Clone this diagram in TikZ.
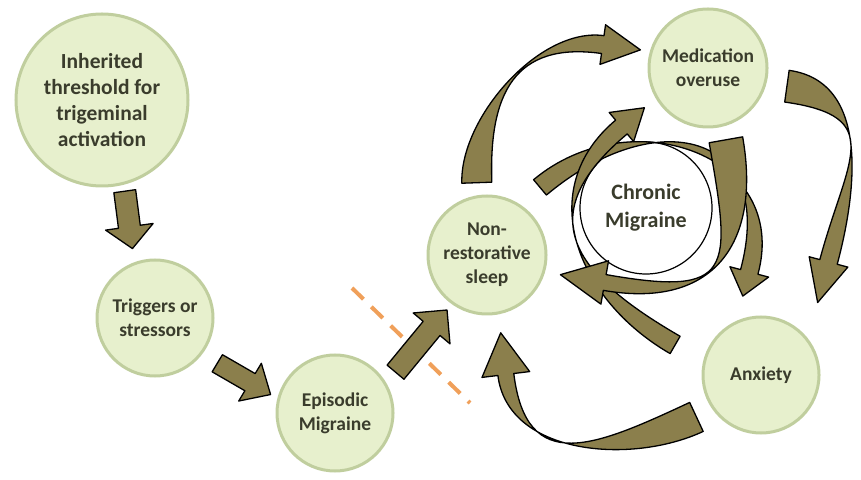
\documentclass[tikz,border=0pt]{standalone}
\usepackage{fontspec}
\setmainfont{Carlito}
\usetikzlibrary{calc}

\definecolor{arrowolive}{RGB}{139,127,76}
\definecolor{bubblefill}{RGB}{231,240,205}
\definecolor{bubbleedge}{RGB}{192,206,158}
\definecolor{labeltext}{RGB}{58,60,44}
\definecolor{cutline}{RGB}{240,160,90}

\tikzset{
  bubble/.style={circle, fill=bubblefill, draw=bubbleedge, line width=3pt, inner sep=0pt,
    align=center, text=labeltext, font=\bfseries\fontsize{19.5}{24}\selectfont},
  blk/.style={fill=arrowolive, draw=black, line width=1.3pt, line join=round},
  % curved block arrow: out angle, in angle, tail half width, neck half width,
  % head half width, head length, control length left side, control length right side
  fatarrow/.style n args={8}{to path={
      -- ($(\tikztostart)+({#1+90}:#3)$)
      .. controls +({#1}:#7) and +({#2+180}:#7) ..
      ($(\tikztotarget)+({#2+180}:#6)+({#2+90}:#4)$)
      -- ($(\tikztotarget)+({#2+180}:#6)+({#2+90}:#5)$)
      -- (\tikztotarget)
      -- ($(\tikztotarget)+({#2+180}:#6)+({#2-90}:#5)$)
      -- ($(\tikztotarget)+({#2+180}:#6)+({#2-90}:#4)$)
      .. controls +({#2+180}:#8) and +({#1}:#8) ..
      ($(\tikztostart)+({#1-90}:#3)$)
      -- cycle}}
}

\begin{document}
\begin{tikzpicture}[x=1pt, y=1pt]
  \useasboundingbox (0,0) rectangle (861,479);

  % bubbles
  \node[bubble, minimum size=172pt, font=\bfseries\fontsize{21.5}{26}\selectfont] (inh) at (102,379)
    {Inherited\\threshold for\\trigeminal\\activation};
  \node[bubble, minimum size=116pt] (trig) at (155,161) {Triggers or\\stressors};
  \node[bubble, minimum size=116pt] (epi) at (335,66) {Episodic\\Migraine};
  \node[bubble, minimum size=118pt] (sleep) at (487,224) {Non-\\restorative\\sleep};
  \node[bubble, minimum size=118pt] (med) at (708,411) {Medication\\overuse};
  \node[bubble, minimum size=116pt] (anx) at (761,104) {Anxiety};
  \node[circle, draw=black, line width=1.2pt, minimum size=132pt, inner sep=0pt, align=center,
    text=labeltext, font=\bfseries\fontsize{22}{28}\selectfont] (chr) at (646,271) {Chronic\\Migraine};

  % dashed cut between episodic and chronic
  \draw[cutline, line width=4pt, dash pattern=on 16pt off 11pt] (352,191) -- (470,76);

  % straight arrows
  \draw[blk] ([shift={(-76:94)}]inh.center)
    to[fatarrow={-82}{-82}{11}{11}{24}{22}{0}{0}] ([shift={(108:73)}]trig.center);
  \draw[blk] ([shift={(-36:77)}]trig.center)
    to[fatarrow={-31}{-31}{10}{10}{22}{24}{0}{0}] ([shift={(164:67)}]epi.center);
  \draw[blk] ([shift={(34:73)}]epi.center)
    to[fatarrow={50}{50}{11}{11}{24}{24}{0}{0}] ([shift={(-126:68)}]sleep.center);

  % outer cycle
  \draw[blk] ([shift={(98:73)}]sleep.center)
    to[fatarrow={92}{-8}{15}{9}{20}{38}{65}{88}] ([shift={(165:70)}]med.center);
  \draw[blk] ([shift={(-13:81)}]med.center)
    to[fatarrow={-8}{-105}{16}{9}{20}{42}{80}{104}] ([shift={(52:92)}]anx.center);
  \draw[blk] ([shift={(213:77)}]anx.center)
    to[fatarrow={205}{97}{16}{8}{24}{42}{80}{104}] ([shift={(-80:79)}]sleep.center);

  % inner cycle round chronic migraine
  \draw[blk] ([shift={(169:108)}]chr.center)
    to[fatarrow={40}{-105}{10}{9}{20}{25}{125}{143}] ([shift={(103:81)}]anx.center);
  \draw[blk] ([shift={(-78:140)}]chr.center)
    to[fatarrow={150}{40}{10}{9}{19}{30}{108}{126}] ([shift={(212:75)}]med.center);
  \draw[blk] ([shift={(-76:74)}]med.center)
    to[fatarrow={-80}{170}{17}{8}{22}{45}{110}{130}] ([shift={(-15:76)}]sleep.center);
\end{tikzpicture}
\end{document}
